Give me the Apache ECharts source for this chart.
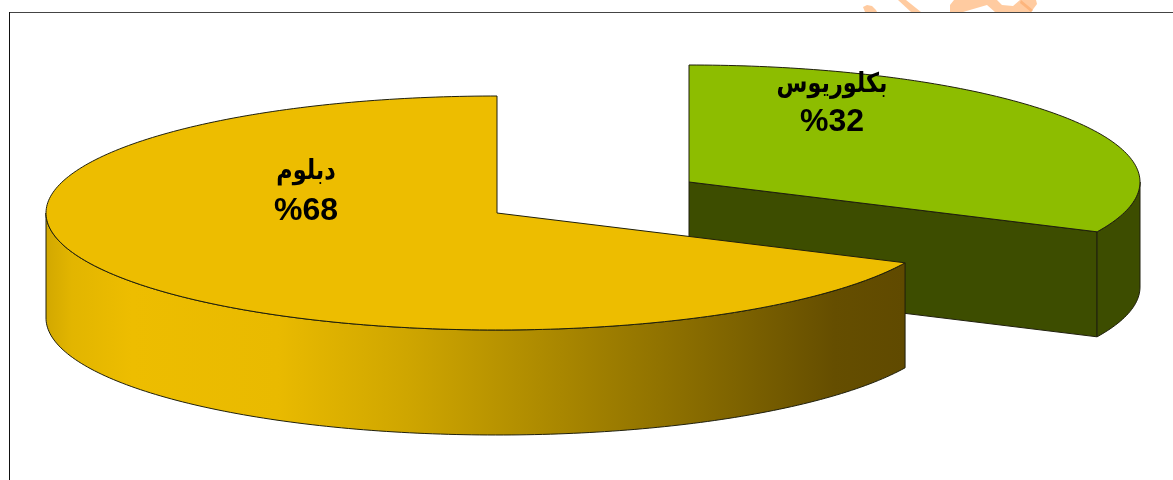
<!DOCTYPE html>
<html lang="ar">
<head>
<meta charset="utf-8">
<style>html,body{margin:0;padding:0;background:#fff}#c{width:1173px;height:480px}</style>
<script src="https://cdn.jsdelivr.net/npm/echarts@6/dist/echarts.min.js"></script>
</head>
<body>
<div id="c"></div>
<script>
const categories = ['بكلوريوس', 'دبلوم'];
const values = [32, 68];
const percentLabels = ['%32', '%68'];

const topColors = ['#8DBD00', '#EDBD00'];
const wallColor = '#3D4D00';
const centers = [[689, 182], [497, 213]];
const labelPos = [[832, 85, 122], [306, 172, 211]];
const RX = 451, RY = 117, DEPTH = 105, STEP = 1;
const total = values.reduce((a, b) => a + b, 0);
const yellowWall = {
  type: 'linear', x: 46, y: 0, x2: 903, y2: 0, global: true,
  colorStops: [
    { offset: 0, color: '#D2A800' }, { offset: 0.03, color: '#E2B500' },
    { offset: 0.1, color: '#EDBD00' }, { offset: 0.27, color: '#E9BA00' },
    { offset: 0.42, color: '#CFA600' }, { offset: 0.6, color: '#A98700' },
    { offset: 0.8, color: '#7F6400' }, { offset: 0.92, color: '#654E00' },
    { offset: 1, color: '#604A00' }
  ]
};
const LINE = { stroke: '#1f1f0c', lineWidth: 1 };

function pt(c, deg, dy) {
  const a = deg * Math.PI / 180;
  return [c[0] + RX * Math.sin(a), c[1] - RY * Math.cos(a) + (dy || 0)];
}
function arc(c, from, to, dy) {
  const out = [];
  for (let d = from; d < to; d += STEP) out.push(pt(c, d, dy));
  out.push(pt(c, to, dy));
  return out;
}

function renderItem(params, api) {
  const i = params.dataIndex;
  const start = values.slice(0, i).reduce((a, b) => a + b, 0) / total * 360;
  const end = start + api.value(0) / total * 360;
  const c = centers[i];
  const children = [];
  if (end < 180) {
    const e = pt(c, end);
    children.push({
      type: 'polygon',
      shape: { points: [c, e, [e[0], e[1] + DEPTH], [c[0], c[1] + DEPTH]] },
      style: Object.assign({ fill: wallColor }, LINE)
    });
  }
  const wFrom = Math.max(start, 90), wTo = Math.min(end, 270);
  if (wTo > wFrom) {
    const upper = arc(c, wFrom, wTo, 0);
    const lower = arc(c, wFrom, wTo, DEPTH).reverse();
    children.push({
      type: 'polygon',
      shape: { points: upper.concat(lower) },
      style: Object.assign({ fill: i === 1 ? yellowWall : wallColor }, LINE)
    });
  }
  children.push({
    type: 'polygon',
    shape: { points: [c].concat(arc(c, start, end, 0)) },
    style: Object.assign({ fill: topColors[i] }, LINE)
  });
  const p = labelPos[i];
  children.push({
    type: 'text',
    x: p[0], y: p[1], scaleX: 0.83,
    style: { x: 0, y: 0, text: categories[i], align: 'center', verticalAlign: 'middle',
      fill: '#000', font: 'bold 27px "Liberation Sans","DejaVu Sans",sans-serif' }
  });
  children.push({
    type: 'text',
    style: { x: p[0], y: p[2], text: percentLabels[i], align: 'center', verticalAlign: 'middle',
      fill: '#000', font: 'bold 32px "Liberation Sans",Arial,sans-serif' }
  });
  return { type: 'group', children };
}

const chart = echarts.init(document.getElementById('c'), null, { renderer: 'canvas', width: 1173, height: 480 });
const wm = { fill: '#FFCBA0' };
chart.setOption({
  animation: false,
  backgroundColor: '#fff',
  graphic: { elements: [
    { type: 'polygon', silent: true, z: -2, shape: { points: [[863,7],[867,5],[872,6],[876,10],[877,12],[865,12]] }, style: wm },
    { type: 'polygon', silent: true, z: -2, shape: { points: [[898,0],[906,0],[921,12],[911,12]] }, style: wm },
    { type: 'polygon', silent: true, z: -2, shape: { points: [[950,12],[950,5],[954,0],[997,0],[1002,5],[1013,6],[1020,0],[1036,0],[1037,4],[1034,8],[1031,12],[995,12],[987,5],[963,12]] }, style: wm },
    { type: 'polygon', silent: true, z: -1, shape: { points: [[1021,0],[1033,10],[1031,12],[1020,3]] }, style: { fill: '#FDB57C' } },
    { type: 'line', silent: true, z: 0, shape: { x1: 9, y1: 12.5, x2: 1173, y2: 12.5 }, style: { stroke: '#444', lineWidth: 1 } },
    { type: 'line', silent: true, z: 0, shape: { x1: 9.5, y1: 12, x2: 9.5, y2: 480 }, style: { stroke: '#111', lineWidth: 1 } }
  ] },
  series: [{
    type: 'custom',
    coordinateSystem: 'none',
    silent: true,
    clip: false,
    data: values.map((v, i) => ({ name: categories[i], value: [v] })),
    encode: { value: 0 },
    renderItem
  }]
});
</script>
</body>
</html>
